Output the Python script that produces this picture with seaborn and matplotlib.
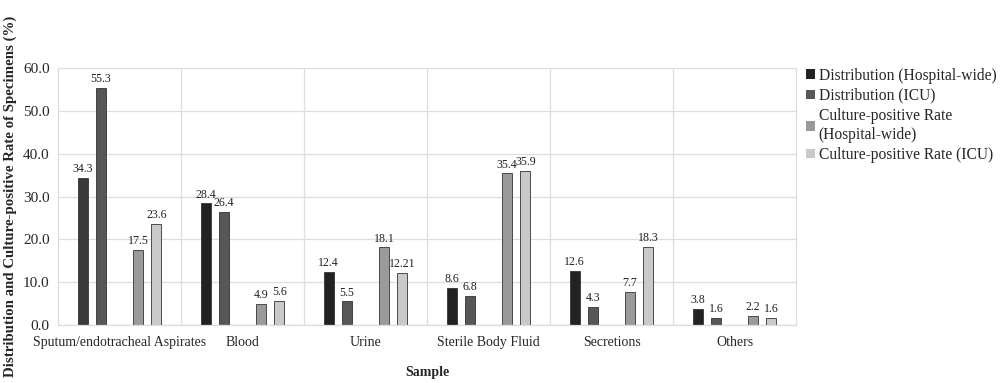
import pandas as pd
import numpy as np
import matplotlib.pyplot as plt
import seaborn as sns
from matplotlib.patches import Patch

samples = ["Sputum/endotracheal Aspirates", "Blood", "Urine",
           "Sterile Body Fluid", "Secretions", "Others"]
dist_hosp = [34.3, 28.4, 12.4, 8.6, 12.6, 3.8]
dist_icu = [55.3, 26.4, 5.5, 6.8, 4.3, 1.6]
rate_hosp = [17.5, 4.9, 18.1, 35.4, 7.7, 2.2]
rate_icu = [23.6, 5.6, 12.21, 35.9, 18.3, 1.6]

series = ["Distribution (Hospital-wide)", "Distribution (ICU)",
          "Culture-positive Rate\n(Hospital-wide)", "Culture-positive Rate (ICU)"]
colors = ["#222222", "#575757", "#9a9a9a", "#c9c9c9"]
spacer = " "  # empty slot between the two pairs, like the original chart

rows = []
for name, vals in zip(series, [dist_hosp, dist_icu, rate_hosp, rate_icu]):
    for s, v in zip(samples, vals):
        rows.append({"Sample": s, "Series": name, "Value": v})
df = pd.DataFrame(rows)

hue_order = series[:2] + [spacer] + series[2:]
palette = dict(zip(series, colors))
palette[spacer] = "white"

sns.set_theme(style="white")
plt.rcParams['font.family'] = ['Liberation Serif', 'DejaVu Serif']

fig = plt.figure(figsize=(10, 3.83), dpi=100)
ax = fig.add_axes([0.058, 0.1514, 0.738, 0.671])

sns.barplot(data=df, x="Sample", y="Value", hue="Series", hue_order=hue_order,
            order=samples, palette=palette, width=0.75, gap=0.45,
            linewidth=0.6, edgecolor="#333333", legend=False, ax=ax)

for cont in ax.containers:
    vals = cont.datavalues
    ax.bar_label(cont, labels=[f"{v:g}" for v in vals], padding=2,
                 fontsize=8.6, color="#222222")

# first sputum bar is a little lighter in the original
ax.containers[0].patches[0].set_facecolor("#3a3a3a")

ax.set_ylim(0, 60)
ax.set_xlim(-0.5, len(samples) - 0.5)
ax.set_yticks(np.arange(0, 61, 10))
ax.set_yticklabels([f"{t:.1f}" for t in np.arange(0, 61, 10)], fontsize=11)
ax.tick_params(axis="x", labelsize=10, length=0, pad=8)
ax.tick_params(axis="y", length=0, pad=6)

ax.grid(axis="y", color="#dddddd", linewidth=0.9)
for b in np.arange(0.5, len(samples) - 0.5, 1):
    ax.axvline(b, color="#dddddd", linewidth=0.9, zorder=0)
ax.set_axisbelow(True)
for side in ["top", "right", "bottom", "left"]:
    ax.spines[side].set_color("#dddddd")
    ax.spines[side].set_linewidth(0.9)
ax.spines["top"].set_visible(False)

ax.set_xlabel("Sample", fontsize=10, fontweight="bold", labelpad=12)
ax.set_ylabel("Distribution and Culture-positive Rate of Specimens (%)",
              fontsize=10.7, fontweight="bold", labelpad=4)

handles = [Patch(facecolor=c, edgecolor="none") for c in colors]
fig.legend(handles, series, loc="upper left", bbox_to_anchor=(0.8, 0.84),
           frameon=False, fontsize=11.2, handlelength=0.55, handleheight=0.55,
           handletextpad=0.25, labelspacing=0.28, borderaxespad=0)

fig.savefig("out.png", dpi=100)
